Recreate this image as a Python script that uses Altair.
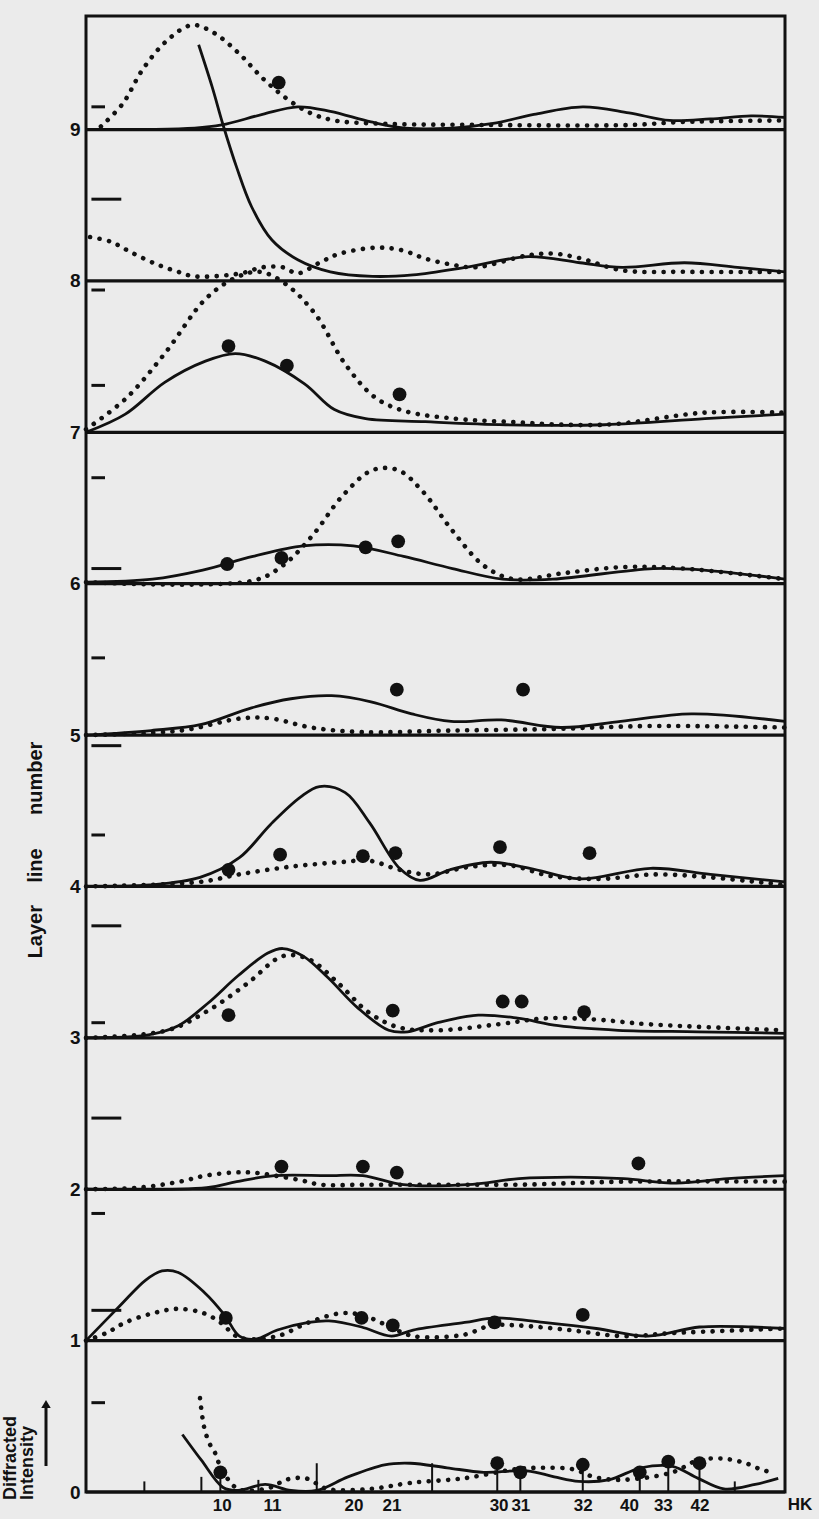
import altair as alt
import pandas as pd

# ---------------- data ----------------
# x: reciprocal radius (axis positions of HK reflections); intensity in layer units
HK_LABELS = ["10", "11", "20", "21", "30", "31", "32", "40", "33", "42"]
HK_POS = [1.0, 1.37, 1.97, 2.25, 3.04, 3.2, 3.66, 4.0, 4.25, 4.52]
LAYER_LABELS = [0, 1, 2, 3, 4, 5, 6, 7, 8, 9]

SOLID_9 = [(0.0, 0.0), (0.8, 0.01), (1.0, 0.03), (1.3, 0.1), (1.56, 0.15), (1.8, 0.12), (2.1, 0.05),
           (2.35, 0.01), (2.7, 0.01), (3.0, 0.04), (3.3, 0.1), (3.66, 0.15), (4.0, 0.11), (4.3, 0.06),
           (4.6, 0.07), (4.9, 0.09), (5.15, 0.08)]
DOTTED_9 = [(0.11, 0.02), (0.27, 0.17), (0.42, 0.4), (0.6, 0.59), (0.78, 0.69), (0.94, 0.64), (1.13, 0.5),
            (1.3, 0.34), (1.47, 0.21), (1.65, 0.11), (1.83, 0.06), (2.12, 0.04), (3.0, 0.03), (4.0, 0.03),
            (4.4, 0.05), (5.15, 0.06)]
SPOTS_9 = [(1.42, 0.31)]

SOLID_8 = [(0.83, 1.56), (0.93, 1.28), (1.01, 1.03), (1.11, 0.75), (1.22, 0.49), (1.37, 0.27), (1.56, 0.14),
           (1.8, 0.06), (2.11, 0.03), (2.41, 0.04), (2.8, 0.09), (3.26, 0.16), (3.64, 0.12), (3.95, 0.09),
           (4.41, 0.12), (4.8, 0.09), (5.15, 0.06)]
DOTTED_8 = [(0.03, 0.29), (0.18, 0.26), (0.33, 0.19), (0.52, 0.11), (0.68, 0.06), (0.8, 0.03), (1.14, 0.05),
            (1.3, 0.09), (1.45, 0.09), (1.56, 0.05), (1.72, 0.12), (1.87, 0.18), (2.15, 0.22), (2.34, 0.2),
            (2.49, 0.15), (2.68, 0.11), (2.87, 0.09), (3.26, 0.17), (3.45, 0.18), (3.64, 0.15), (3.95, 0.07),
            (4.41, 0.06), (5.15, 0.06)]
SPOTS_8 = []

SOLID_7 = [(0.0, 0.0), (0.29, 0.12), (0.58, 0.33), (0.88, 0.47), (1.1, 0.52), (1.32, 0.47), (1.61, 0.32),
           (1.83, 0.15), (2.06, 0.09), (2.5, 0.07), (3.09, 0.05), (3.82, 0.05), (4.56, 0.09), (5.15, 0.12)]
DOTTED_7 = [(0.0, 0.02), (0.29, 0.22), (0.58, 0.52), (0.88, 0.88), (1.1, 1.02), (1.28, 1.06), (1.47, 0.98),
            (1.69, 0.78), (1.91, 0.45), (2.13, 0.23), (2.35, 0.14), (2.72, 0.09), (3.09, 0.07), (3.82, 0.05),
            (4.56, 0.13), (5.15, 0.13)]
SPOTS_7 = [(1.05, 0.57), (1.48, 0.44), (2.31, 0.25)]

SOLID_6 = [(0.0, 0.01), (0.49, 0.03), (0.86, 0.09), (1.23, 0.18), (1.6, 0.25), (1.97, 0.25), (2.34, 0.18),
           (2.7, 0.1), (3.07, 0.03), (3.44, 0.03), (4.18, 0.1), (4.55, 0.09), (5.15, 0.03)]
DOTTED_6 = [(0.0, 0.01), (1.23, 0.02), (1.45, 0.12), (1.67, 0.32), (1.89, 0.58), (2.11, 0.75), (2.3, 0.75),
            (2.48, 0.61), (2.7, 0.35), (2.93, 0.12), (3.15, 0.03), (3.52, 0.07), (3.96, 0.11), (4.4, 0.1),
            (5.15, 0.03)]
SPOTS_6 = [(1.04, 0.13), (1.44, 0.17), (2.06, 0.24), (2.3, 0.28)]

SOLID_5 = [(0.0, 0.0), (0.48, 0.03), (0.85, 0.07), (1.22, 0.18), (1.51, 0.24), (1.81, 0.26), (2.1, 0.22),
           (2.4, 0.14), (2.69, 0.09), (3.06, 0.1), (3.5, 0.05), (3.94, 0.09), (4.46, 0.14), (5.15, 0.09)]
DOTTED_5 = [(0.0, 0.0), (0.7, 0.03), (1.14, 0.11), (1.36, 0.11), (1.66, 0.05), (2.03, 0.02), (2.69, 0.03),
            (3.43, 0.04), (4.16, 0.06), (5.15, 0.05)]
SPOTS_5 = [(2.29, 0.3), (3.22, 0.3)]

SOLID_4 = [(0.0, 0.0), (0.47, 0.01), (0.84, 0.06), (1.13, 0.19), (1.36, 0.41), (1.58, 0.59), (1.72, 0.66),
           (1.91, 0.62), (2.09, 0.42), (2.31, 0.12), (2.46, 0.04), (2.68, 0.11), (2.98, 0.16), (3.27, 0.12),
           (3.64, 0.05), (4.16, 0.12), (4.6, 0.08), (5.15, 0.03)]
DOTTED_4 = [(0.0, 0.0), (0.84, 0.03), (1.13, 0.08), (1.5, 0.13), (1.87, 0.16), (2.09, 0.17), (2.31, 0.11),
            (2.53, 0.08), (2.83, 0.13), (3.12, 0.14), (3.42, 0.07), (3.79, 0.05), (4.23, 0.08), (5.15, 0.01)]
SPOTS_4 = [(1.05, 0.11), (1.43, 0.21), (2.04, 0.2), (2.28, 0.22), (3.05, 0.26), (3.71, 0.22)]

SOLID_3 = [(0.0, 0.0), (0.46, 0.02), (0.68, 0.08), (0.9, 0.23), (1.12, 0.41), (1.34, 0.56), (1.45, 0.59),
           (1.6, 0.54), (1.78, 0.4), (2.0, 0.2), (2.23, 0.05), (2.37, 0.04), (2.59, 0.1), (2.89, 0.15),
           (3.18, 0.13), (3.48, 0.08), (3.92, 0.05), (4.51, 0.04), (5.15, 0.03)]
DOTTED_3 = [(0.0, 0.0), (0.6, 0.05), (0.9, 0.18), (1.19, 0.36), (1.45, 0.54), (1.64, 0.52), (1.86, 0.36),
            (2.08, 0.17), (2.3, 0.07), (2.59, 0.05), (3.04, 0.09), (3.4, 0.13), (3.77, 0.12), (4.14, 0.09),
            (5.15, 0.05)]
SPOTS_3 = [(1.05, 0.15), (2.26, 0.18), (3.07, 0.24), (3.21, 0.24), (3.67, 0.17)]

SOLID_2 = [(0.0, 0.0), (0.89, 0.01), (1.11, 0.05), (1.39, 0.09), (1.78, 0.09), (2.04, 0.09), (2.34, 0.03),
           (2.81, 0.03), (3.19, 0.07), (3.57, 0.08), (3.96, 0.07), (4.35, 0.04), (4.73, 0.07), (5.15, 0.09)]
DOTTED_2 = [(0.0, 0.0), (0.38, 0.01), (0.69, 0.05), (0.88, 0.09), (1.08, 0.11), (1.23, 0.11), (1.39, 0.09),
            (1.58, 0.06), (1.73, 0.03), (2.04, 0.03), (2.73, 0.03), (3.19, 0.03), (3.96, 0.05), (5.15, 0.05)]
SPOTS_2 = [(1.44, 0.15), (2.04, 0.15), (2.29, 0.11), (4.07, 0.17)]

SOLID_1 = [(0.0, 0.0), (0.25, 0.23), (0.44, 0.4), (0.56, 0.46), (0.68, 0.45), (0.87, 0.32), (1.02, 0.17),
           (1.13, 0.03), (1.25, 0.01), (1.41, 0.07), (1.64, 0.12), (1.79, 0.13), (2.03, 0.09), (2.25, 0.03),
           (2.41, 0.07), (2.79, 0.12), (3.02, 0.15), (3.37, 0.12), (3.76, 0.08), (4.14, 0.03), (4.52, 0.09),
           (4.91, 0.09), (5.15, 0.08)]
DOTTED_1 = [(0.0, 0.0), (0.15, 0.05), (0.29, 0.12), (0.49, 0.18), (0.68, 0.21), (0.87, 0.18), (0.99, 0.12),
            (1.13, 0.02), (1.41, 0.03), (1.64, 0.12), (1.87, 0.18), (2.03, 0.17), (2.22, 0.1), (2.41, 0.03),
            (2.79, 0.04), (2.98, 0.1), (3.18, 0.1), (3.56, 0.07), (3.95, 0.03), (4.33, 0.05), (5.15, 0.08)]
SPOTS_1 = [(1.03, 0.15), (2.03, 0.15), (2.26, 0.1), (3.01, 0.12), (3.66, 0.17)]

SOLID_0 = [(0.71, 0.38), (0.85, 0.21), (1.01, 0.03), (1.12, 0.01), (1.32, 0.05), (1.51, 0.01), (1.7, 0.01),
           (1.93, 0.1), (2.2, 0.18), (2.39, 0.19), (2.66, 0.16), (2.93, 0.13), (3.25, 0.14), (3.45, 0.1),
           (3.63, 0.07), (3.85, 0.08), (4.09, 0.16), (4.32, 0.17), (4.51, 0.09), (4.7, 0.02), (4.93, 0.05),
           (5.1, 0.09)]
DOTTED_0 = [(0.84, 0.62), (0.87, 0.43), (0.91, 0.32), (0.95, 0.26), (0.99, 0.17), (1.12, 0.02), (1.36, 0.03),
            (1.47, 0.08), (1.62, 0.09), (1.78, 0.02), (2.09, 0.02), (2.39, 0.06), (2.78, 0.09), (3.16, 0.15),
            (3.35, 0.16), (3.59, 0.15), (3.74, 0.1), (3.94, 0.08), (4.32, 0.13), (4.51, 0.21), (4.7, 0.22),
            (4.86, 0.19), (4.97, 0.15), (5.05, 0.13)]
SPOTS_0 = [(0.99, 0.13), (3.03, 0.19), (3.2, 0.13), (3.66, 0.18), (4.08, 0.13), (4.29, 0.2), (4.52, 0.19)]

# reflection markers standing on layer line 0
MARK0_R = [0.43, 0.85, 1.27, 1.7, 2.55, 4.78]
MARK0_H = [0.07, 0.1, 0.08, 0.19, 0.19, 0.07]

# short scale marks at the left edge (layer-line level) and their lengths
SCALE_Y = [9.15, 8.54, 7.94, 7.31, 6.7, 6.1, 5.51, 4.93, 4.34, 3.74, 3.1, 2.47, 1.84, 1.2, 0.59]
SCALE_LEN = [0.1, 0.22, 0.1, 0.1, 0.1, 0.22, 0.1, 0.22, 0.1, 0.22, 0.1, 0.22, 0.1, 0.22, 0.1]

SOLIDS = [SOLID_0, SOLID_1, SOLID_2, SOLID_3, SOLID_4, SOLID_5, SOLID_6, SOLID_7, SOLID_8, SOLID_9]
DOTTEDS = [DOTTED_0, DOTTED_1, DOTTED_2, DOTTED_3, DOTTED_4, DOTTED_5, DOTTED_6, DOTTED_7, DOTTED_8, DOTTED_9]
SPOTS = [SPOTS_0, SPOTS_1, SPOTS_2, SPOTS_3, SPOTS_4, SPOTS_5, SPOTS_6, SPOTS_7, SPOTS_8, SPOTS_9]

# ---------------- build tables ----------------
def line_table(curves):
    rows = []
    for layer, pts in enumerate(curves):
        for i, (r, h) in enumerate(pts):
            rows.append({"layer": layer, "i": i, "R": r, "y": layer + h})
    return pd.DataFrame(rows)

solid_df = line_table(SOLIDS)
dotted_df = line_table(DOTTEDS)
spot_df = pd.DataFrame([{"layer": L, "R": r, "y": L + h, "base": L}
                        for L, pts in enumerate(SPOTS) for (r, h) in pts])
base_df = pd.DataFrame({"y": LAYER_LABELS})
mark_df = pd.DataFrame({"R": MARK0_R, "y": [0] * len(MARK0_R), "y2": MARK0_H})
scale_df = pd.DataFrame({"x": [0.04] * len(SCALE_Y), "x2": [0.04 + l for l in SCALE_LEN], "y": SCALE_Y})
hk_df = pd.DataFrame({"R": [5.17], "y": [0.0], "t": ["HK"]})

W, H = 699, 1476
XMAX = 5.15
YMAX = 9.75
FONT = "Liberation Sans"
INK = "#111111"

xs = alt.Scale(domain=[0, XMAX], nice=False, zero=False)
ys = alt.Scale(domain=[0, YMAX], nice=False, zero=False)

label_expr = "[" + ",".join("'%s'" % s for s in HK_LABELS) + "][indexof([" + \
    ",".join(str(v) for v in HK_POS) + "], datum.value)]"

x_axis = alt.Axis(values=HK_POS, labelExpr=label_expr, ticks=False, domain=False, grid=False,
                  labelFontSize=17, labelFont=FONT, labelFontWeight="bold",
                  labelColor=INK, labelPadding=5, title=None, labelFlush=False, labelOverlap=False)
y_axis = alt.Axis(values=LAYER_LABELS, ticks=False, domain=False, grid=False, labelFontSize=19,
                  labelFont=FONT, labelFontWeight="bold", labelColor=INK, labelPadding=6, title=None)

X = alt.X("R:Q", scale=xs, axis=x_axis)
Y = alt.Y("y:Q", scale=ys, axis=y_axis)

baselines = alt.Chart(base_df).mark_rule(color=INK, strokeWidth=3.2).encode(
    y=alt.Y("y:Q", scale=ys, axis=y_axis))

solid = alt.Chart(solid_df).mark_line(color=INK, strokeWidth=2.8, interpolate="catmull-rom").encode(
    x=X, y=Y, detail="layer:N", order="i:Q")

dotted = alt.Chart(dotted_df).mark_line(color=INK, strokeWidth=4.6, strokeDash=[0.1, 9.5],
                                        strokeCap="round", interpolate="catmull-rom").encode(
    x=X, y=Y, detail="layer:N", order="i:Q")

stems = alt.Chart(spot_df[spot_df["layer"] == 0]).mark_rule(color=INK, strokeWidth=2).encode(
    x=X, y=alt.Y("base:Q", scale=ys, axis=y_axis), y2="y:Q")

spots = alt.Chart(spot_df).mark_point(shape="circle", filled=True, color=INK, opacity=1, size=190).encode(
    x=X, y=Y)

marks0 = alt.Chart(mark_df).mark_rule(color=INK, strokeWidth=2).encode(
    x=X, y=alt.Y("y:Q", scale=ys, axis=y_axis), y2="y2:Q")

scales = alt.Chart(scale_df).mark_rule(color=INK, strokeWidth=3).encode(
    x=alt.X("x:Q", scale=xs, axis=x_axis), x2="x2:Q", y=alt.Y("y:Q", scale=ys, axis=y_axis))

hk = alt.Chart(hk_df).mark_text(font=FONT, fontSize=17, fontWeight="bold", color=INK,
                                 align="left", baseline="top", dy=5, clip=False).encode(
    x=X, y=Y, text="t:N")

title_df = pd.DataFrame({"t": ["Layer\u00a0\u00a0\u00a0\u00a0line\u00a0\u00a0\u00a0\u00a0\u00a0\u00a0number"]})
ytitle = alt.Chart(title_df).mark_text(font=FONT, fontSize=20, fontWeight="bold", color=INK,
                                        angle=270, align="center", baseline="middle").encode(
    x=alt.value(-50), y=alt.value(834), text="t:N")

di_df = pd.DataFrame({"t": ["Diffracted", "Intensity"], "px": [-75, -58]})
ditext = alt.Chart(di_df).mark_text(font=FONT, fontSize=18, fontWeight="bold", color=INK,
                                     angle=270, align="left", baseline="middle").encode(
    x=alt.X("px:Q", scale=None), y=alt.value(1484), text="t:N")

arrow_shaft = alt.Chart(pd.DataFrame({"a": [0]})).mark_rule(color=INK, strokeWidth=3).encode(
    x=alt.value(-40), y=alt.value(1450), y2=alt.value(1392))
arrow_head = alt.Chart(pd.DataFrame({"a": [0]})).mark_point(shape="triangle-up", filled=True, color=INK,
                                                           opacity=1, size=90).encode(
    x=alt.value(-40), y=alt.value(1388))

chart = alt.layer(baselines, scales, marks0, stems, solid, dotted, spots, hk, ytitle, ditext,
                  arrow_shaft, arrow_head).properties(
    width=W, height=H, background="#ebebeb",
    padding={"left": 86, "top": 16, "right": 34, "bottom": 27},
    autosize=alt.AutoSizeParams(type="none"),
).configure_view(stroke=INK, strokeWidth=3)

chart.save("out.html", embed_options={"renderer": "svg", "actions": False})
